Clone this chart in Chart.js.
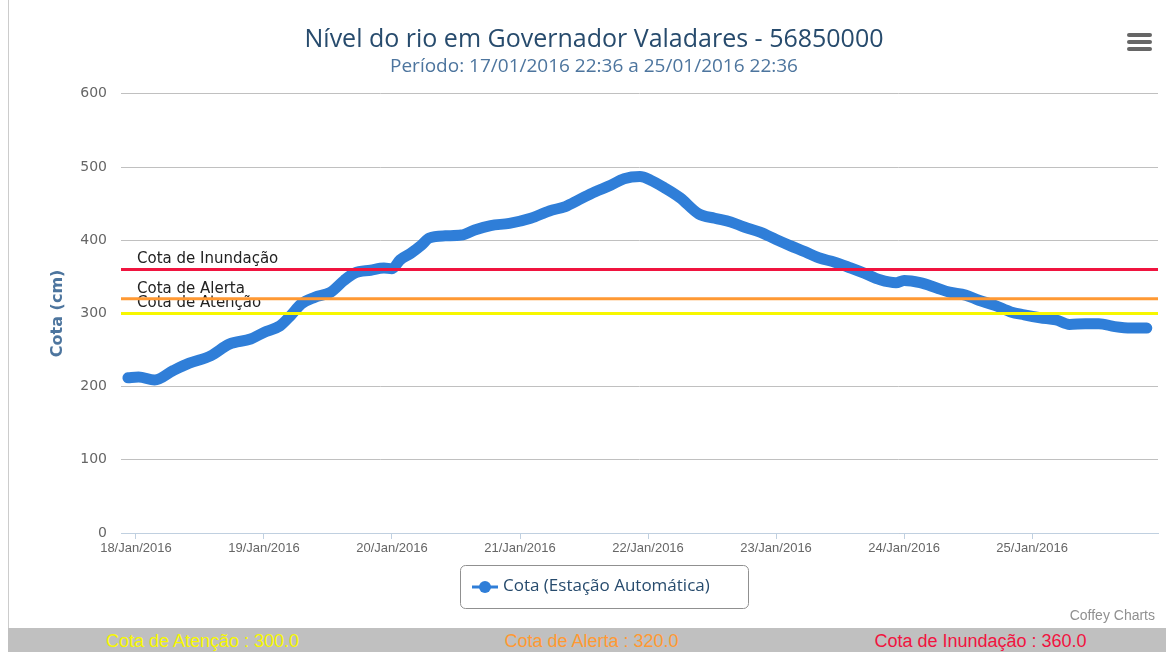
<!DOCTYPE html>
<html>
<head>
<meta charset="utf-8">
<script src="https://cdn.jsdelivr.net/npm/chart.js@4.4.1/dist/chart.umd.min.js"></script>
<style>
html, body { margin: 0; padding: 0; background: #fff; overflow: hidden; }
#wrap { position: relative; width: 1166px; height: 652px; }
#frame { position: absolute; left: 8px; top: 0; width: 1px; height: 628px; background: #cccccc; }
#chart { position: absolute; left: 0; top: 0; }
#bar { position: absolute; left: 8px; top: 628px; width: 1167px; height: 24px; background: #c0c0c0; display: flex; }
#bar div { flex: 1; text-align: center; font: 18px 'Liberation Sans', Arial, sans-serif; line-height: 27px; white-space: nowrap; }
</style>
</head>
<body>
<div id="wrap">
  <canvas id="chart" width="1166" height="628"></canvas>
  <div id="frame"></div>
  <div id="bar"></div>
</div>
<script>
// horas contadas a partir de 18/Jan/2016 00:00
var hours = [-1.5, 0.5, 3.5, 7, 10, 14, 17.5, 21.5, 24, 27, 29, 31, 33.5, 36.5, 39, 41, 44, 46.5, 48, 49.5,
    51.5, 53.5, 55, 58, 61, 63.5, 66.5, 70, 74, 77.5, 80.5, 83, 86, 89, 91.5, 94.5, 96.5, 99, 102, 105.5,
    108.5, 111.5, 114, 117, 120, 122.5, 125.5, 128, 131, 134, 136.5, 139.5, 142.5, 144, 147, 150, 152.5, 155.5, 158, 161,
    164, 166.5, 169.5, 172.5, 175, 178, 180.5, 183.5, 186.5, 189.5];
var cota = [212, 213, 209, 222, 232, 242, 258, 265, 274, 283, 297, 313, 322, 329, 345, 355, 359, 362, 361, 373,
    382, 393, 403, 406, 407, 414, 420, 423, 430, 440, 446, 455, 466, 475, 484, 487, 482, 472, 458, 436,
    430, 425, 418, 411, 401, 393, 384, 376, 370, 362, 355, 346, 342, 345, 342, 335, 329, 325, 318, 311,
    302, 298, 294, 291, 285, 286, 286, 282, 280, 280];
var dayHours = [0, 24, 48, 72, 96, 120, 144, 168];
var dayLabels = ["18/Jan/2016", "19/Jan/2016", "20/Jan/2016", "21/Jan/2016",
    "22/Jan/2016", "23/Jan/2016", "24/Jan/2016", "25/Jan/2016"];
var yTicks = [0, 100, 200, 300, 400, 500, 600];

var limitNames = ["Cota de Atenção", "Cota de Alerta", "Cota de Inundação"];
var limitValues = [300, 320, 360];
var limitColors = ["#f7f700", "#ff9933", "#f0143f"];

var bar = document.getElementById("bar");
limitNames.forEach(function (n, i) {
    var d = document.createElement("div");
    d.textContent = n + " : " + limitValues[i].toFixed(1);
    d.style.color = limitColors[i];
    bar.appendChild(d);
});

var limitLines = {
    id: "limitLines",
    afterDatasetsDraw: function (chart) {
        var ctx = chart.ctx, a = chart.chartArea, y = chart.scales.y;
        ctx.save();
        ctx.font = "15px 'DejaVu Sans'";
        ctx.fillStyle = "#222";
        ctx.textBaseline = "alphabetic";
        limitValues.forEach(function (v, i) {
            ctx.fillText(limitNames[i], a.left + 16, y.getPixelForValue(v) - 6);
        });
        ctx.lineWidth = 3;
        limitValues.forEach(function (v, i) {
            var py = y.getPixelForValue(v);
            ctx.strokeStyle = limitColors[i];
            ctx.beginPath();
            ctx.moveTo(a.left, py);
            ctx.lineTo(a.right, py);
            ctx.stroke();
        });
        ctx.restore();
    }
};

var extras = {
    id: "extras",
    afterDraw: function (chart) {
        var ctx = chart.ctx, ds = chart.data.datasets[0];
        ctx.save();
        // legenda
        ctx.strokeStyle = "#909090";
        ctx.lineWidth = 1;
        ctx.beginPath();
        ctx.roundRect(460.5, 565.5, 288, 43, 5);
        ctx.stroke();
        ctx.strokeStyle = ds.borderColor;
        ctx.lineWidth = 3;
        ctx.beginPath();
        ctx.moveTo(472, 587);
        ctx.lineTo(498, 587);
        ctx.stroke();
        ctx.fillStyle = ds.borderColor;
        ctx.beginPath();
        ctx.arc(485, 587, 6, 0, Math.PI * 2);
        ctx.fill();
        ctx.fillStyle = "#274b6d";
        ctx.font = "17px 'Open Sans'";
        ctx.textBaseline = "middle";
        ctx.fillText(ds.label, 503, 586);
        // menu
        ctx.fillStyle = "#666";
        [35, 42, 49].forEach(function (yy) {
            ctx.beginPath();
            ctx.roundRect(1127, yy - 2, 25, 4, 2);
            ctx.fill();
        });
        // credito
        ctx.fillStyle = "#909090";
        ctx.font = "14px 'Liberation Sans'";
        ctx.textAlign = "right";
        ctx.fillText("Coffey Charts", 1155, 616);
        ctx.restore();
    }
};

new Chart(document.getElementById("chart"), {
    type: "line",
    data: {
        datasets: [{
            label: "Cota (Estação Automática)",
            data: hours.map(function (h, i) { return { x: h, y: cota[i] }; }),
            borderColor: "#2f7ed8",
            backgroundColor: "#2f7ed8",
            borderWidth: 11,
            pointRadius: 0,
            borderCapStyle: "round",
            borderJoinStyle: "round",
            cubicInterpolationMode: "monotone"
        }]
    },
    options: {
        responsive: false,
        animation: false,
        layout: { padding: { left: 30, right: 8, top: 0, bottom: 65 } },
        plugins: {
            legend: { display: false },
            tooltip: { enabled: false },
            title: {
                display: true,
                text: "Nível do rio em Governador Valadares - 56850000",
                color: "#274b6d",
                font: { family: "'Open Sans'", size: 25, weight: "normal", lineHeight: 1.2 },
                padding: { top: 25, bottom: 0 }
            },
            subtitle: {
                display: true,
                text: "Período: 17/01/2016 22:36 a 25/01/2016 22:36",
                color: "#4d759e",
                font: { family: "'Open Sans'", size: 19, weight: "normal", lineHeight: 1.2 },
                padding: { top: 0, bottom: 16 }
            }
        },
        scales: {
            x: {
                type: "linear",
                min: -2.8,
                max: 191.6,
                afterBuildTicks: function (s) {
                    s.ticks = dayHours.map(function (v) { return { value: v }; });
                },
                afterFit: function (s) { s.height = 30; },
                ticks: {
                    autoSkip: false,
                    maxRotation: 0,
                    color: "#666",
                    padding: 2,
                    font: { family: "'Liberation Sans'", size: 13 },
                    callback: function (v, i) { return dayLabels[i]; }
                },
                grid: { drawOnChartArea: false, tickLength: 6, color: "#c0d0e0" },
                border: { color: "#c0d0e0" }
            },
            y: {
                min: 0,
                max: 600,
                afterBuildTicks: function (s) {
                    s.ticks = yTicks.map(function (v) { return { value: v }; });
                },
                afterFit: function (s) { s.width = 91; },
                ticks: {
                    color: "#666",
                    padding: 14,
                    font: { family: "'DejaVu Sans'", size: 14 }
                },
                grid: { color: "#c0c0c0", drawTicks: false },
                border: { display: false },
                title: {
                    display: true,
                    text: "Cota (cm)",
                    color: "#4d759e",
                    font: { family: "'DejaVu Sans'", size: 16, weight: "bold" },
                    padding: { top: 18, bottom: 0 }
                }
            }
        }
    },
    plugins: [limitLines, extras]
});
</script>
</body>
</html>
